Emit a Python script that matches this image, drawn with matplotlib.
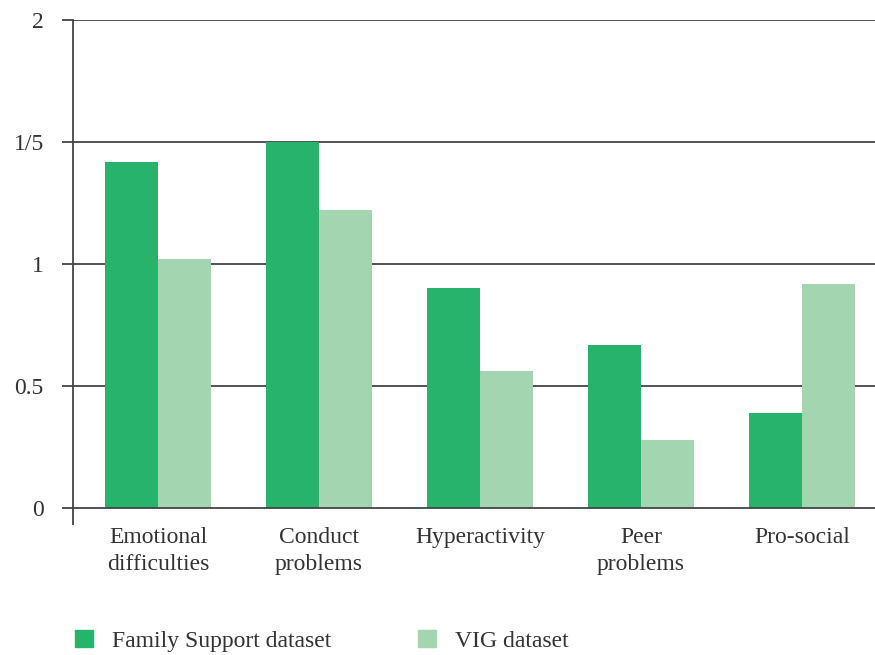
import matplotlib
matplotlib.use("Agg")
import matplotlib.pyplot as plt
from matplotlib.patches import Patch
import numpy as np

categories = ["Emotional\ndifficulties", "Conduct\nproblems", "Hyperactivity",
              "Peer\nproblems", "Pro-social"]
family_support = [1.42, 1.50, 0.90, 0.67, 0.39]
vig = [1.02, 1.22, 0.56, 0.28, 0.92]
yticks = [0, 0.5, 1, 1.5, 2]
ytick_labels = ["0", "0.5", "1", "1/5", "2"]

DARK = "#27B36B"; LIGHT = "#A2D5B0"; INK = "#333333"; RULE = "#444444"

plt.rcParams["font.family"] = ["Liberation Serif", "DejaVu Serif"]
FS = 17

fig = plt.figure(figsize=(8.75, 6.55), dpi=100)
ax = fig.add_axes([73/875, 1-508/655, 1-73/875, (508-20)/655])

x = np.arange(len(categories))
w = 0.33
ax.bar(x - w/2, family_support, w, color=DARK, zorder=2)
ax.bar(x + w/2, vig, w, color=LIGHT, zorder=2)

ax.set_xlim(-0.528, 4.453)
ax.set_ylim(0, 2)
ax.set_yticks(yticks)
ax.set_yticklabels(ytick_labels, fontsize=FS, color=INK)
for v in yticks[1:]:
    ax.axhline(v, color=RULE, lw=1.3, zorder=1)
ax.tick_params(axis="y", length=8, width=1.3, color=RULE, pad=13)

ax.set_xticks(x)
ax.set_xticklabels(categories, fontsize=FS, color=INK, linespacing=1.35)
ax.tick_params(axis="x", length=0, pad=14)
ax.set_xticks([-0.528], minor=True)
ax.tick_params(axis="x", which="minor", length=12, width=1.3, color=RULE)

for s in ["top", "right"]:
    ax.spines[s].set_visible(False)
for s in ["left", "bottom"]:
    ax.spines[s].set_color(RULE)
    ax.spines[s].set_linewidth(1.3)

handles = [Patch(color=DARK, label="Family Support dataset"),
           Patch(color=LIGHT, label="VIG dataset")]
fig.legend(handles=handles, loc="center left", bbox_to_anchor=(0.086, 0.022),
           ncol=2, frameon=False, fontsize=FS, handlelength=0.75,
           handleheight=0.75, handletextpad=0.8, columnspacing=3.7,
           labelcolor=INK, borderpad=0, borderaxespad=0)

fig.savefig("out.png", dpi=100)
